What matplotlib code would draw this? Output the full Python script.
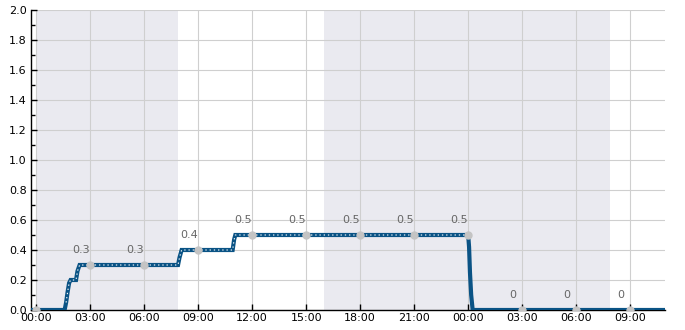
import matplotlib
matplotlib.use("Agg")
import matplotlib.pyplot as plt
import matplotlib.dates as mdates
from matplotlib.ticker import MultipleLocator
import pandas as pd

# ---- data ----
line_times = ["2024-01-01 23:30", "2024-01-02 01:35", "2024-01-02 01:40", "2024-01-02 01:45",
              "2024-01-02 01:50", "2024-01-02 01:55", "2024-01-02 02:13", "2024-01-02 02:18",
              "2024-01-02 02:25", "2024-01-02 07:53", "2024-01-02 07:58", "2024-01-02 08:05",
              "2024-01-02 10:55", "2024-01-02 11:00", "2024-01-02 11:04", "2024-01-03 00:00",
              "2024-01-03 00:03", "2024-01-03 00:06", "2024-01-03 00:10", "2024-01-03 00:15",
              "2024-01-03 11:30"]
line_values = [0, 0, 0.05, 0.12, 0.18, 0.2, 0.2, 0.26, 0.3, 0.3, 0.35, 0.4,
               0.4, 0.47, 0.5, 0.5, 0.42, 0.25, 0.1, 0, 0]

point_times = ["2024-01-02 00:00", "2024-01-02 03:00", "2024-01-02 06:00", "2024-01-02 09:00",
               "2024-01-02 12:00", "2024-01-02 15:00", "2024-01-02 18:00", "2024-01-02 21:00",
               "2024-01-03 00:00", "2024-01-03 03:00", "2024-01-03 06:00", "2024-01-03 09:00"]
point_values = [0, 0.3, 0.3, 0.4, 0.5, 0.5, 0.5, 0.5, 0.5, 0, 0, 0]

shade_bands = [("2024-01-02 00:00", "2024-01-02 07:52"),
               ("2024-01-02 16:00", "2024-01-03 07:52")]

x_range = ("2024-01-01 23:43", "2024-01-03 10:56")
y_range = (0, 2.0)

# ---- plot ----
lt = pd.to_datetime(line_times)
pt = pd.to_datetime(point_times)

fig = plt.figure(figsize=(6.85, 3.3), dpi=100)
ax = fig.add_axes([31 / 685, 20 / 330, 634 / 685, 300 / 330])

for a, b in shade_bands:
    ax.axvspan(pd.Timestamp(a), pd.Timestamp(b), color="#eaeaf0", lw=0, zorder=0)

ax.grid(True, color="#cfcfcf", lw=0.8, zorder=1)
ax.set_axisbelow(True)

ax.plot(lt, line_values, color="#0a5385", lw=3.0, zorder=3, solid_joinstyle="miter")
ax.plot(lt[2:16], line_values[2:16], color="white", lw=0.8, ls=(0, (1.2, 2.6)), zorder=4)
ax.plot(pt, point_values, ls="none", marker="o", ms=5, color="#c4c4c4", zorder=5)

for t, v in zip(pt, point_values):
    ax.annotate(f"{v:g}", (t, v), xytext=(-6.5, 10.5), textcoords="offset points",
                ha="center", va="center", fontsize=8, color="#666666",
                annotation_clip=True, clip_on=True, zorder=6)

ax.set_xlim(pd.Timestamp(x_range[0]), pd.Timestamp(x_range[1]))
ax.set_ylim(*y_range)

ax.xaxis.set_major_locator(mdates.HourLocator(byhour=range(0, 24, 3)))
ax.xaxis.set_major_formatter(mdates.DateFormatter("%H:%M"))
ax.yaxis.set_major_locator(MultipleLocator(0.2))
ax.yaxis.set_minor_locator(MultipleLocator(0.1))
ax.yaxis.set_major_formatter(lambda v, p: f"{v:.1f}")

ax.tick_params(axis="both", which="major", direction="in", length=4, width=1,
               labelsize=8, colors="black", pad=3)
ax.tick_params(axis="y", which="minor", direction="in", length=3, width=1)
ax.tick_params(axis="x", pad=2)

for s in ["top", "right"]:
    ax.spines[s].set_visible(False)
for s in ["left", "bottom"]:
    ax.spines[s].set_color("black")
    ax.spines[s].set_linewidth(1)

fig.savefig("out.png", dpi=100)
